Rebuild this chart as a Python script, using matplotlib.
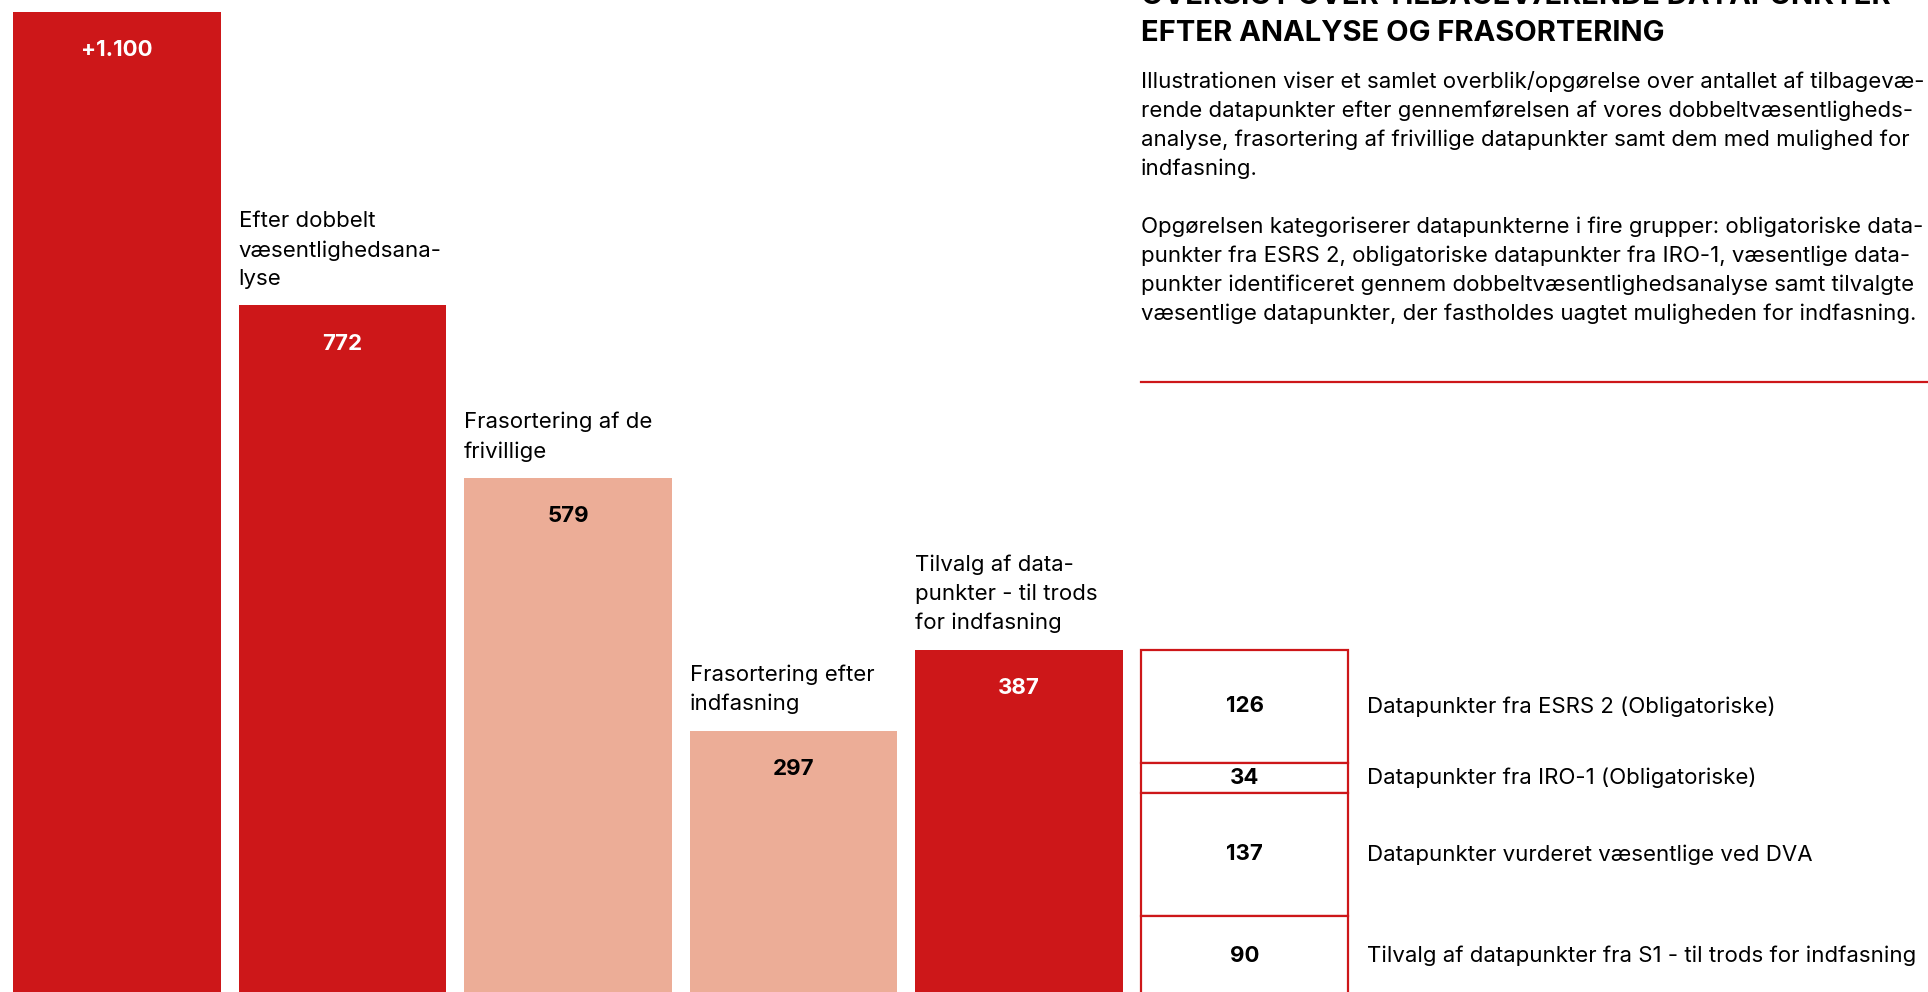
import matplotlib.pyplot as plt
from matplotlib.patches import Rectangle

plt.rcParams["font.family"] = ["Inter", "DejaVu Sans"]

RED = "#CD1719"
SALMON = "#ECAD97"

# bar data
categories = [
    "",
    "Efter dobbelt\nvæsentlighedsana-\nlyse",
    "Frasortering af de\nfrivillige",
    "Frasortering efter\nindfasning",
    "Tilvalg af data-\npunkter - til trods\nfor indfasning",
]
values = [1100, 772, 579, 297, 387]
value_labels = ["+1.100", "772", "579", "297", "387"]
bar_colors = [RED, RED, SALMON, SALMON, RED]
label_colors = ["white", "white", "black", "black", "white"]

# breakdown of the remaining datapoints (top to bottom)
parts = [126, 34, 137, 90]
part_labels = [
    "Datapunkter fra ESRS 2 (Obligatoriske)",
    "Datapunkter fra IRO-1 (Obligatoriske)",
    "Datapunkter vurderet væsentlige ved DVA",
    "Tilvalg af datapunkter fra S1 - til trods for indfasning",
]

title_lines = [
    "OVERSIGT OVER TILBAGEVÆRENDE DATAPUNKTER",
    "EFTER ANALYSE OG FRASORTERING",
]
para1 = [
    "Illustrationen viser et samlet overblik/opgørelse over antallet af tilbagevæ-",
    "rende datapunkter efter gennemførelsen af vores dobbeltvæsentligheds-",
    "analyse, frasortering af frivillige datapunkter samt dem med mulighed for",
    "indfasning.",
]
para2 = [
    "Opgørelsen kategoriserer datapunkterne i fire grupper: obligatoriske data-",
    "punkter fra ESRS 2, obligatoriske datapunkter fra IRO-1, væsentlige data-",
    "punkter identificeret gennem dobbeltvæsentlighedsanalyse samt tilvalgte",
    "væsentlige datapunkter, der fastholdes uagtet muligheden for indfasning.",
]

W, H = 1928, 992
fig = plt.figure(figsize=(W / 100, H / 100), dpi=100)
ax = fig.add_axes([0, 0, 1, 1])
ax.set_xlim(-0.519, 8.031)
ax.set_ylim(4.8, 1113.4)
ax.axis("off")

width = 0.922
x = list(range(len(values)))
ax.bar(x, values, width=width, color=bar_colors, zorder=2)

for i, (v, lab, lc, cat) in enumerate(zip(values, value_labels, label_colors, categories)):
    ax.annotate(lab, (i, v), xytext=(0, -27.5), textcoords="offset points",
                ha="center", va="center", color=lc, fontsize=16, fontweight="bold")
    if cat:
        ax.annotate(cat, (i - width / 2, v), xytext=(0, 12), textcoords="offset points",
                    ha="left", va="bottom", fontsize=16, linespacing=1.52)

# stacked white box with red outlines
bx = len(values)
top = sum(parts)
for p, lab in zip(parts, part_labels):
    bottom = top - p
    ax.add_patch(Rectangle((bx - width / 2, bottom), width, p, facecolor="white",
                           edgecolor=RED, linewidth=1.6, zorder=3))
    mid = bottom + p / 2
    ax.text(bx, mid, str(p), ha="center", va="center", fontsize=16, fontweight="bold", zorder=4)
    ax.annotate(lab, (bx + width / 2, mid), xytext=(13, 0), textcoords="offset points",
                ha="left", va="center", fontsize=16)
    top = bottom

# right-hand text block
x0 = 1141 / W
fig.text(x0, 1 - 4 / H, title_lines[0], fontsize=21, fontweight="bold", va="baseline")
fig.text(x0, 1 - 41 / H, title_lines[1], fontsize=21, fontweight="bold", va="baseline")
for k, line in enumerate(para1):
    fig.text(x0, 1 - (82 + 29 * k) / H, line, fontsize=16, va="center")
for k, line in enumerate(para2):
    fig.text(x0, 1 - (227 + 29 * k) / H, line, fontsize=16, va="center")
fig.add_artist(plt.Line2D([x0, 1], [1 - 382 / H] * 2, color=RED, linewidth=1.6,
                          transform=fig.transFigure))

fig.savefig("out.png", dpi=100)
